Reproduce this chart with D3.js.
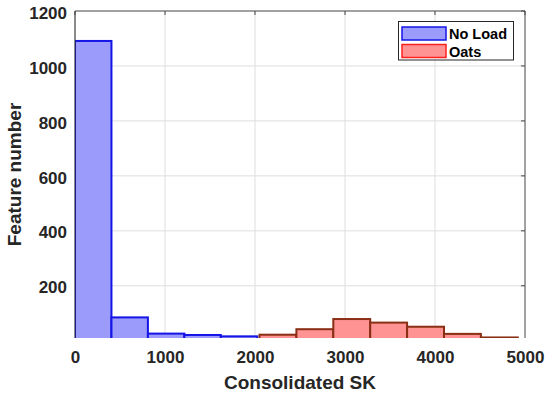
<!DOCTYPE html>
<html>
<head>
<meta charset="utf-8">
<script src="https://cdn.jsdelivr.net/npm/d3@7/dist/d3.min.js"></script>
<style>
  html, body { margin: 0; padding: 0; background: #fff; }
  svg text { font-family: "Liberation Sans", Arial, sans-serif; font-weight: bold; fill: #262626; }
</style>
</head>
<body>
<svg id="chart" width="550" height="396"></svg>
<script>
// ---- data ----
const noLoadEdges = [0, 405, 810, 1215, 1620, 2025];
const noLoadCounts = [1091, 85, 26, 21, 16];
const oatsEdges = [2050, 2460, 2870, 3280, 3690, 4100, 4510, 4920, 5330];
const oatsCounts = [22, 42, 79, 66, 51, 25, 12];
const xTicks = [0, 1000, 2000, 3000, 4000, 5000];
const yTicks = [200, 400, 600, 800, 1000, 1200];
const seriesNames = ["No Load", "Oats"];

// ---- layout ----
const svg = d3.select("#chart");
const L = 75, R = 525, T = 11, B = 338;
const x = d3.scaleLinear().domain([0, 5000]).range([L, R]);
const y = d3.scaleLinear().domain([10, 1200]).range([B, T]);

svg.append("defs").append("clipPath").attr("id", "clip")
  .append("rect").attr("x", L).attr("y", T).attr("width", R - L).attr("height", B - T);

// grid
const g = svg.append("g");
g.selectAll(".gx").data(xTicks).join("line")
  .attr("x1", d => x(d)).attr("x2", d => x(d)).attr("y1", T).attr("y2", B)
  .attr("stroke", "#dedede").attr("stroke-width", 1);
g.selectAll(".gy").data(yTicks).join("line")
  .attr("x1", L).attr("x2", R).attr("y1", d => y(d)).attr("y2", d => y(d))
  .attr("stroke", "#dedede").attr("stroke-width", 1);

// bars
function bins(edges, counts) {
  return counts.map((c, i) => ({ x0: edges[i], x1: edges[i + 1], c }));
}
const bars = svg.append("g").attr("clip-path", "url(#clip)");
bars.selectAll(".nl").data(bins(noLoadEdges, noLoadCounts)).join("rect")
  .attr("x", d => x(d.x0)).attr("width", d => x(d.x1) - x(d.x0))
  .attr("y", d => y(d.c)).attr("height", d => B + 5 - y(d.c))
  .attr("fill", "#9b9bfb").attr("stroke", "#1414e6").attr("stroke-width", 2);
bars.selectAll(".oa").data(bins(oatsEdges, oatsCounts)).join("rect")
  .attr("x", d => x(d.x0)).attr("width", d => x(d.x1) - x(d.x0))
  .attr("y", d => y(d.c)).attr("height", d => B + 5 - y(d.c))
  .attr("fill", "#ff9292").attr("stroke", "#8a2e14").attr("stroke-width", 2);

// axes
const xAxis = d3.axisBottom(x).tickValues(xTicks).tickSize(0).tickPadding(13).tickFormat(d3.format("d"));
const yAxis = d3.axisLeft(y).tickValues(yTicks).tickSize(0).tickPadding(8).tickFormat(d3.format("d"));
const gx = svg.append("g").attr("transform", `translate(0,${B})`).call(xAxis);
const gy = svg.append("g").attr("transform", `translate(${L},0)`).call(yAxis);
gx.select(".domain").remove();
gy.select(".domain").remove();
gx.selectAll("text").attr("font-size", 17).attr("fill", "#262626");
gy.selectAll("text").attr("font-size", 17).attr("fill", "#262626").attr("dy", "0.42em");

// box
svg.append("line").attr("x1", L).attr("x2", L).attr("y1", T).attr("y2", B).attr("stroke", "#262626").attr("stroke-width", 1);
svg.append("line").attr("x1", L).attr("x2", R).attr("y1", T).attr("y2", T).attr("stroke", "#555").attr("stroke-width", 1);
svg.append("line").attr("x1", R).attr("x2", R).attr("y1", T).attr("y2", B).attr("stroke", "#555").attr("stroke-width", 1);
// inner tick marks
svg.selectAll(".tt").data(xTicks).join("line")
  .attr("x1", d => x(d)).attr("x2", d => x(d)).attr("y1", T).attr("y2", T + 4).attr("stroke", "#444");
svg.selectAll(".tr").data(yTicks).join("line")
  .attr("x1", R - 4).attr("x2", R).attr("y1", d => y(d)).attr("y2", d => y(d)).attr("stroke", "#444");

// labels
svg.append("text").attr("x", (L + R) / 2).attr("y", 389).attr("text-anchor", "middle")
  .attr("font-size", 19).text("Consolidated SK");
svg.append("text").attr("transform", `translate(21,${(T + B) / 2}) rotate(-90)`).attr("text-anchor", "middle")
  .attr("font-size", 19).text("Feature number");

// legend
const lg = svg.append("g");
lg.append("rect").attr("x", 398.5).attr("y", 21.5).attr("width", 115).attr("height", 38.5)
  .attr("fill", "#fff").attr("stroke", "#262626").attr("stroke-width", 1);
const legendFill = ["#9b9bfb", "#ff9292"];
const legendStroke = ["#1414e6", "#ff2020"];
seriesNames.forEach((n, i) => {
  lg.append("rect").attr("x", 402).attr("y", 27 + i * 17.5).attr("width", 44).attr("height", 13)
    .attr("fill", legendFill[i]).attr("stroke", legendStroke[i]).attr("stroke-width", 1.5);
  lg.append("text").attr("x", 449).attr("y", 39 + i * 17.5).attr("font-size", 14.5)
    .style("fill", "#000").text(n);
});
</script>
</body>
</html>
